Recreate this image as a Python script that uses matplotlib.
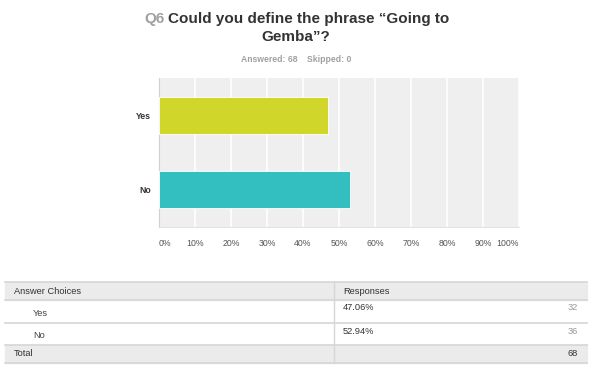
import matplotlib.pyplot as plt
from matplotlib.patches import Rectangle

# survey data
choices = ["Yes", "No"]
shares = [0.4706, 0.5294]
counts = [32, 36]
colors = ["#d0d62a", "#33bfc0"]
ticks = [0, 0.1, 0.2, 0.3, 0.4, 0.5, 0.6, 0.7, 0.8, 0.9, 1.0]
tick_labels = ["0%", "10%", "20%", "30%", "40%", "50%", "60%", "70%", "80%", "90%", "100%"]
answered = 68
skipped = 0

plt.rcParams['font.family'] = ['Liberation Sans', 'DejaVu Sans']

fig = plt.figure(figsize=(6, 3.71), dpi=100)
fig.patch.set_facecolor('white')

# overlay in pixel coords for titles and table
ov = fig.add_axes([0, 0, 1, 1])
ov.set_xlim(0, 600)
ov.set_ylim(371, 0)
ov.axis('off')

ov.text(144, 19, "Q6", fontsize=11, fontweight='bold', color='#a0a0a0', va='center', ha='left')
ov.text(168, 19, "Could you define the phrase \u201cGoing to", fontsize=11, fontweight='bold',
        color='#333333', va='center', ha='left')
ov.text(296, 37, "Gemba\u201d?", fontsize=11, fontweight='bold', color='#333333', va='center', ha='center')
ov.text(296, 59, f"Answered: {answered}    Skipped: {skipped}", fontsize=6.2, fontweight='bold',
        color='#a0a0a0', va='center', ha='center')

# bar chart
ax = fig.add_axes([159/600, 1-227/371, 360/600, 149/371])
ax.set_facecolor('#efefef')
ypos = list(range(len(choices)))
ax.barh(ypos, shares, height=0.5, color=colors, edgecolor='white', linewidth=0.6, zorder=3)
ax.set_xlim(0, 1)
ax.set_ylim(len(choices) - 0.5, -0.5)
for t in ticks[1:]:
    ax.axvline(t, color='white', linewidth=1.2, zorder=1)
ax.set_xticks(ticks)
ax.set_xticklabels(tick_labels, fontsize=6.3, color='#555555')
labs = ax.get_xticklabels()
labs[0].set_ha('left')
labs[-1].set_ha('right')
ax.tick_params(axis='x', length=0, pad=9)
ax.set_yticks(ypos)
ax.set_yticklabels(choices, fontsize=6.3, fontweight='bold', color='#333333')
ax.tick_params(axis='y', length=0, pad=6)
for s in ['top', 'right']:
    ax.spines[s].set_visible(False)
ax.spines['left'].set_color('#d0d0d0')
ax.spines['bottom'].set_color('#e2e2e2')

# table below
x0, x1, xdiv = 5, 587, 334
rows = [282, 300, 323, 345, 363]
ov.add_patch(Rectangle((x0, rows[0]), x1 - x0, rows[1] - rows[0], color='#ebebeb', zorder=1))
ov.add_patch(Rectangle((x0, rows[3]), x1 - x0, rows[4] - rows[3], color='#ebebeb', zorder=1))
for y in rows:
    ov.plot([x0, x1], [y, y], color='#d6d6d6', linewidth=1.2, zorder=2)
ov.plot([xdiv, xdiv], [rows[0], rows[4]], color='#d6d6d6', linewidth=1, zorder=2)

fs = 6.7
ov.text(14, 291, "Answer Choices", fontsize=fs, color='#333333', va='center')
ov.text(343, 291, "Responses", fontsize=fs, color='#333333', va='center')
for i, (c, s, n) in enumerate(zip(choices, shares, counts)):
    top = rows[i + 1]
    ov.text(33, top + 13, c, fontsize=fs, color='#444444', va='center')
    ov.text(343, top + 8, f"{s*100:.2f}%", fontsize=fs, color='#333333', va='center')
    ov.text(578, top + 8, str(n), fontsize=fs, color='#999999', va='center', ha='right')
ov.text(14, 354, "Total", fontsize=fs, color='#333333', va='center')
ov.text(578, 354, str(sum(counts)), fontsize=fs, color='#333333', va='center', ha='right')

fig.savefig('out.png', dpi=100, facecolor='white')
